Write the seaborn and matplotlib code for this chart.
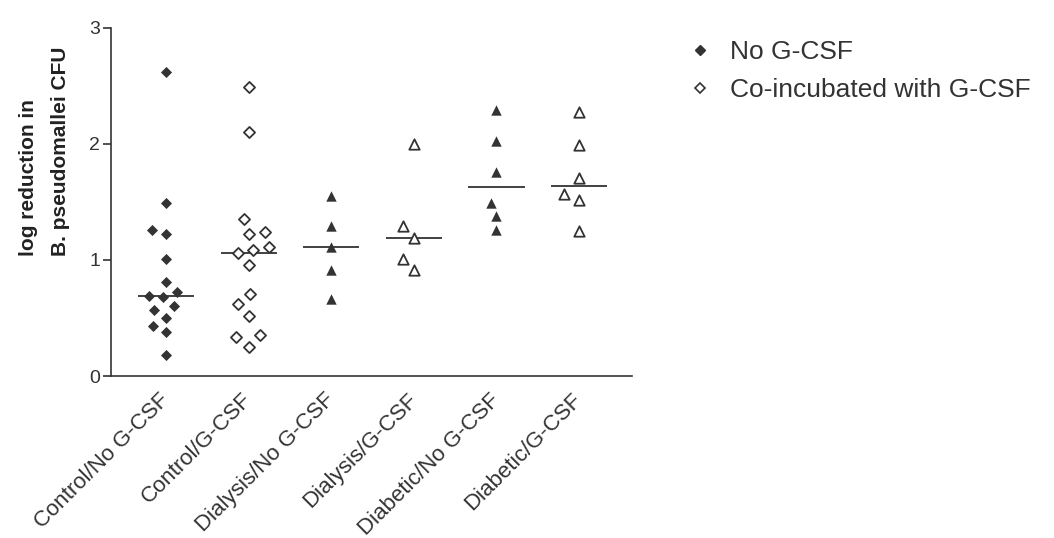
import numpy as np
import pandas as pd
import matplotlib
matplotlib.use("Agg")
import matplotlib.pyplot as plt
from matplotlib.lines import Line2D
import seaborn as sns

categories = ["Control/No G-CSF", "Control/G-CSF", "Dialysis/No G-CSF",
              "Dialysis/G-CSF", "Diabetic/No G-CSF", "Diabetic/G-CSF"]

control_no = [2.62, 1.49, 1.26, 1.22, 1.01, 0.81, 0.68, 0.72, 0.69, 0.60, 0.57, 0.50, 0.43, 0.38, 0.18]
control_g = [2.49, 2.10, 1.35, 1.24, 1.22, 1.11, 1.06, 1.09, 0.96, 0.71, 0.62, 0.52, 0.35, 0.34, 0.25]
dialysis_no = [1.55, 1.29, 1.11, 0.91, 0.66]
dialysis_g = [2.00, 1.29, 1.19, 1.01, 0.91]
diabetic_no = [2.29, 2.03, 1.76, 1.49, 1.38, 1.26]
diabetic_g = [2.28, 1.99, 1.71, 1.57, 1.52, 1.25]

series = [control_no, control_g, dialysis_no, dialysis_g, diabetic_no, diabetic_g]
legend_labels = ["No G-CSF", "Co-incubated with G-CSF"]

DARK = "#333333"
FONT = ["Liberation Sans", "DejaVu Sans"]

sns.set_style("white")
plt.rcParams["font.family"] = FONT
plt.rcParams["text.color"] = DARK

df = pd.DataFrame({
    "group": np.concatenate([[c] * len(v) for c, v in zip(categories, series)]),
    "value": np.concatenate(series),
})
df["group"] = pd.Categorical(df["group"], categories=categories, ordered=True)

fig = plt.figure(figsize=(10.54, 5.38), dpi=100)
ax = fig.add_axes([0.1053, 0.3011, 0.4943, 0.6469])

swarm_size = 10
styles = []
for i, cat in enumerate(categories):
    marker = "D" if i < 2 else "^"
    filled = (i % 2 == 0)
    sub = df[df["group"] == cat]
    sns.swarmplot(data=sub, x="group", y="value", order=categories, ax=ax,
                  marker=marker, size=swarm_size,
                  color=DARK if filled else "white",
                  edgecolor=DARK, linewidth=0 if filled else 1.3,
                  zorder=3)
    styles.append((marker, filled))

# medians
sns.boxplot(data=df, x="group", y="value", order=categories, ax=ax,
            width=0.68, whis=0, showbox=False, showcaps=False, showfliers=False,
            whiskerprops={"visible": False},
            medianprops={"color": DARK, "linewidth": 1.3}, zorder=2)

ax.set_xlim(-0.666, 5.64)
ax.set_ylim(0, 3)
ax.set_yticks([0, 1, 2, 3])

# compute swarm layout once with the wider spacing, then fix it and shrink markers
fig.canvas.draw()
pts = [c for c in ax.collections if c.get_offsets().shape[0] > 0]
for coll, (marker, filled) in zip(pts, styles):
    if "draw" in coll.__dict__:
        del coll.__dict__["draw"]
    coll.set_sizes([32 if marker == "D" else 56])

for s in ["top", "right"]:
    ax.spines[s].set_visible(False)
for s in ["left", "bottom"]:
    ax.spines[s].set_color(DARK)
    ax.spines[s].set_linewidth(1.2)

ax.tick_params(axis="y", length=6, width=1.2, color=DARK, labelsize=14,
               labelcolor=DARK, pad=2, left=True)
ax.tick_params(axis="x", length=0, labelsize=16, labelcolor=DARK, pad=15)
for lab in ax.get_xticklabels():
    lab.set_rotation(45)
    lab.set_ha("right")
    lab.set_va("center")
    lab.set_rotation_mode("anchor")

ax.set_xlabel("")
ax.set_ylabel("log reduction in\nB. pseudomallei CFU", fontsize=15,
              fontweight="bold", color="#222222", multialignment="left",
              linespacing=1.85)
ax.yaxis.set_label_coords(-0.079, 0.647)

handles = [
    Line2D([], [], marker="D", linestyle="none", markersize=5,
           markerfacecolor=DARK, markeredgecolor=DARK),
    Line2D([], [], marker="D", linestyle="none", markersize=5,
           markerfacecolor="white", markeredgecolor=DARK, markeredgewidth=1.2),
]
fig.legend(handles, legend_labels, loc="upper left",
           bbox_to_anchor=(0.63, 0.97), frameon=False, fontsize=19,
           handlelength=0.9, handletextpad=0.7, labelspacing=0.55,
           labelcolor=DARK)

fig.savefig("out.png", dpi=100)
